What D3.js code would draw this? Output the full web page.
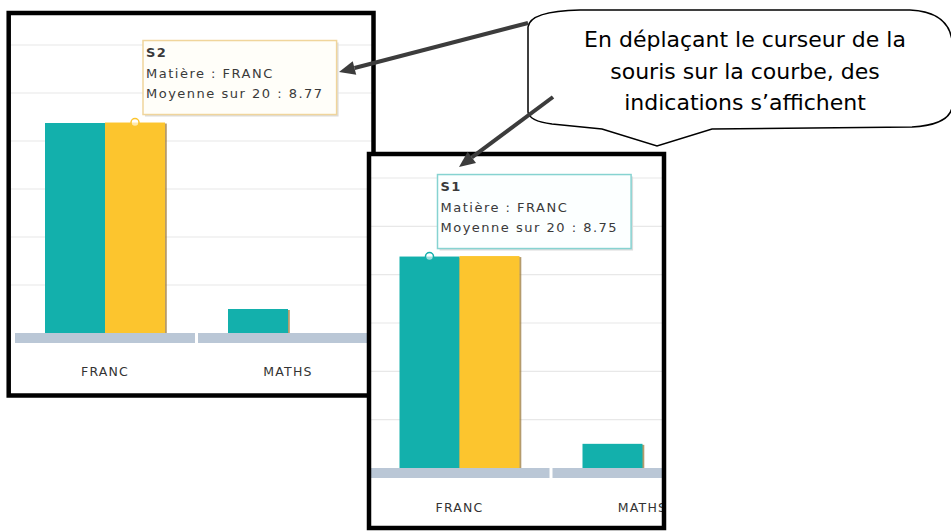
<!DOCTYPE html>
<html><head><meta charset="utf-8">
<script src="https://cdn.jsdelivr.net/npm/d3@7"></script>
<style>html,body{margin:0;padding:0;background:#fff;overflow:hidden}</style>
</head><body>
<svg id="c" width="951" height="531"></svg>
<script>
// ---- data ----
const categories = ["FRANC", "MATHS"];
const seriesNames = ["S1", "S2"];
const s1Values = [8.75, 1.0];
const s2Values = [8.77, null];
const gridTicks = [2, 4, 6, 8, 10, 12];
const seriesColors = ["#13b0ac", "#fcc52e"];
const tooltipSubjectLabel = "Matière";
const tooltipValueLabel = "Moyenne sur 20";
const calloutLines = ["En déplaçant le curseur de la", "souris sur la courbe, des", "indications s’affichent"];

const values = [s1Values, s2Values];
const svg = d3.select("#c");
const defs = svg.append("defs");

function drawPanel(cfg, id) {
  const g = svg.append("g");
  const f = cfg.frame;
  defs.append("clipPath").attr("id", "clip" + id)
    .append("rect").attr("x", f.x1).attr("y", f.y1).attr("width", f.x2 - f.x1).attr("height", f.y2 - f.y1);
  g.append("rect").attr("x", f.x1).attr("y", f.y1).attr("width", f.x2 - f.x1).attr("height", f.y2 - f.y1).attr("fill", "#fff");
  const c = g.append("g").attr("clip-path", `url(#clip${id})`);
  const x = d3.scaleBand().domain(categories).range(cfg.bandRange);
  const bw = x.bandwidth();
  const xs = d3.scaleBand().domain(seriesNames).range([bw / 2 - 60, bw / 2 + 60]);
  const y = d3.scaleLinear().domain([0, 12]).range(cfg.yRange);

  c.selectAll(".grid").data(gridTicks).join("line")
    .attr("x1", f.x1).attr("x2", f.x2).attr("y1", d => y(d)).attr("y2", d => y(d))
    .attr("stroke", "#e8e8e8").attr("stroke-width", 1.2);

  const bars = [];
  categories.forEach((cat, ci) => seriesNames.forEach((s, si) => {
    const v = values[si][ci];
    if (v != null) bars.push({cat, s, si, v});
  }));
  // shadows
  c.selectAll(".sh").data(bars).join("rect")
    .attr("x", d => x(d.cat) + xs(d.s) + 1.8).attr("y", d => y(d.v) + 1)
    .attr("width", xs.bandwidth()).attr("height", d => y(0) - y(d.v))
    .attr("fill", "#9c7a3a").attr("opacity", 0.75);
  c.selectAll(".bar").data(bars).join("rect")
    .attr("x", d => x(d.cat) + xs(d.s)).attr("y", d => y(d.v))
    .attr("width", xs.bandwidth()).attr("height", d => y(0) - y(d.v))
    .attr("fill", d => seriesColors[d.si]);
  // axis band
  c.selectAll(".band").data(categories).join("rect")
    .attr("x", d => x(d) + 1.5).attr("width", bw - 3)
    .attr("y", y(0)).attr("height", 10).attr("fill", "#bac7d6");
  c.selectAll(".lab").data(categories).join("text")
    .attr("x", d => x(d) + bw / 2).attr("y", cfg.labelY)
    .attr("text-anchor", "middle").attr("font-family", "DejaVu Sans, Verdana, sans-serif")
    .attr("font-size", 12.5).attr("letter-spacing", 1.2).attr("fill", "#333").text(d => d);

  // highlighted point + tooltip
  const t = cfg.tip;
  const ci = categories.indexOf(t.cat), si = seriesNames.indexOf(t.series);
  const v = values[si][ci];
  const mx = x(t.cat) + xs(t.series) + xs.bandwidth() / 2, my = y(v);
  c.append("circle").attr("cx", mx).attr("cy", my).attr("r", 4)
    .attr("fill", "#fff").attr("fill-opacity", 0.6).attr("stroke", seriesColors[si]).attr("stroke-width", 1.5);
  const tg = c.append("g").attr("transform", `translate(${mx + 8},${my - 82})`);
  const sh = tg.append("rect").attr("x", 2).attr("y", 2).attr("height", 74).attr("fill", "#ddd");
  const box = tg.append("rect").attr("height", 74).attr("fill", t.bg).attr("stroke", t.border).attr("stroke-width", 1.5);
  const tt = tg.append("g").attr("font-family", "DejaVu Sans, Verdana, sans-serif").attr("font-size", 13)
    .attr("letter-spacing", 1.5).attr("fill", "#3a3a3a");
  tt.append("text").attr("x", 3).attr("y", 16.5).attr("font-weight", "bold").text(t.series);
  tt.append("text").attr("x", 3).attr("y", 37.5).text(`${tooltipSubjectLabel} : ${t.cat}`);
  tt.append("text").attr("x", 3).attr("y", 57).text(`${tooltipValueLabel} : ${d3.format(".2f")(v)}`);
  const w = tt.node().getBBox().width + 16;
  box.attr("width", w); sh.attr("width", w);

  g.append("rect").attr("x", f.x1).attr("y", f.y1).attr("width", f.x2 - f.x1).attr("height", f.y2 - f.y1)
    .attr("fill", "none").attr("stroke", "#000").attr("stroke-width", 4.5);
}

drawPanel({frame: {x1: 8.7, y1: 13, x2: 373.5, y2: 395.5}, bandRange: [13.5, 379.5], yRange: [333, 45], labelY: 376,
  tip: {series: "S2", cat: "FRANC", border: "#f0d59c", bg: "#fffef9"}}, 1);
drawPanel({frame: {x1: 369, y1: 154, x2: 664, y2: 528}, bandRange: [368, 734], yRange: [468, 178], labelY: 512,
  tip: {series: "S1", cat: "FRANC", border: "#86d3d1", bg: "#fcffff"}}, 2);

// callout bubble
svg.append("path")
  .attr("d", "M528,112 L528,27 Q530,11 580,10 L910,10 Q948,12 952,40 L952,108 Q948,125 912,127 L712,129 L657,146 L602,129 L552,124 Q529,121 528,112 Z")
  .attr("fill", "#fff").attr("stroke", "#000").attr("stroke-width", 1.5);
svg.append("g").selectAll("text").data(calloutLines).join("text")
  .attr("x", 745).attr("y", (d, i) => 47 + i * 31.5).attr("text-anchor", "middle")
  .attr("font-family", "'Comic Sans MS', 'DejaVu Sans', sans-serif").attr("font-size", 22).attr("fill", "#000")
  .text(d => d);

// arrows
function arrow(x1, y1, x2, y2) {
  const a = Math.atan2(y2 - y1, x2 - x1), L = 16, W = 7;
  const bx = x2 - L * Math.cos(a), by = y2 - L * Math.sin(a);
  svg.append("line").attr("x1", x1).attr("y1", y1).attr("x2", bx).attr("y2", by)
    .attr("stroke", "#3c3c3c").attr("stroke-width", 4);
  svg.append("path").attr("d", `M${x2},${y2} L${bx + W * Math.sin(a)},${by - W * Math.cos(a)} L${bx - W * Math.sin(a)},${by + W * Math.cos(a)} Z`)
    .attr("fill", "#3c3c3c");
}
arrow(528, 23, 339, 72);
arrow(553, 97, 459, 167);
</script>
</body></html>
